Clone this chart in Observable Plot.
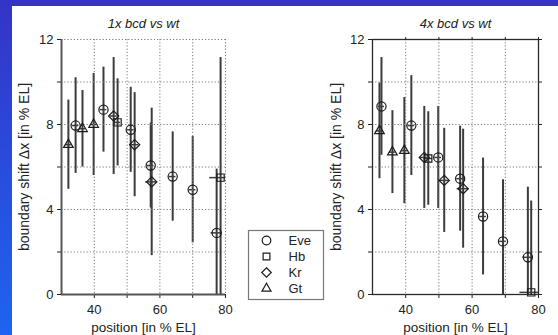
<!DOCTYPE html>
<html><head><meta charset="utf-8">
<script src="https://cdn.jsdelivr.net/npm/d3@7"></script>
<script src="https://cdn.jsdelivr.net/npm/@observablehq/plot@0.6"></script>
<style>
html,body{margin:0;padding:0;}
body{width:558px;height:335px;overflow:hidden;position:relative;background:linear-gradient(to bottom,#3434c6,#1e64f0);font-family:"Liberation Sans",Arial,sans-serif;}
#paper{position:absolute;left:12px;top:6px;right:0;bottom:0;background:#fff;}
.abs{position:absolute;top:0;}
</style></head><body>
<div id="paper"></div>
<div id="left" class="abs" style="left:0px"></div>
<div id="right" class="abs" style="left:279px"></div>
<div id="legend" style="position:absolute;left:248px;top:230px;line-height:0"></div>
<script>
// ---- data ----
const genes = ["Eve", "Hb", "Kr", "Gt"];
const geneSymbols = ["circle", "square2", "diamond2", "triangle2"];

const titles = ["1x bcd vs wt", "4x bcd vs wt"];
const xLabel = "position [in % EL]";
const yLabel = "boundary shift \u0394x [in % EL]";

const xDomain = [30, 80];
const yDomain = [0, 12];
const xTicks = [40, 50, 60, 70, 80];
const xTickLabels = [40, 60, 80];
const yTicks = [0, 2, 4, 6, 8, 10, 12];
const yTickLabels = [0, 4, 8, 12];

// 1x bcd vs wt
const gene1 = ["Gt","Eve","Gt","Gt","Eve","Kr","Hb","Eve","Kr","Eve","Kr","Eve","Eve","Eve","Hb"];
const pos1  = [32.1, 34.3, 36.4, 39.8, 42.8, 45.9, 47.1, 51.1, 52.3, 57.2, 57.5, 63.9, 70.0, 77.3, 78.5];
const shift1= [7.05, 7.95, 7.8, 8.0, 8.7, 8.4, 8.1, 7.75, 7.05, 6.07, 5.3, 5.55, 4.93, 2.9, 5.5];
const err1  = [2.1, 2.25, 1.8, 2.4, 2.0, 2.75, 2.05, 2.0, 2.45, 2.0, 3.47, 2.1, 2.5, 3.0, 5.65];
const xerr1 = [0.9, 1.0, 0.9, 0.9, 1.0, 1.0, 0.9, 1.0, 1.3, 1.0, 1.8, 1.0, 1.0, 1.7, 3.3];

// 4x bcd vs wt
const gene4 = ["Gt","Eve","Gt","Gt","Eve","Kr","Hb","Eve","Kr","Eve","Kr","Eve","Eve","Eve","Hb"];
const pos4  = [32.1, 32.7, 36.0, 39.6, 41.7, 45.6, 46.8, 49.8, 51.6, 56.4, 57.3, 63.3, 69.3, 76.8, 77.8];
const shift4= [7.7, 8.85, 6.7, 6.77, 7.95, 6.45, 6.4, 6.45, 5.37, 5.45, 4.98, 3.67, 2.5, 1.75, 0.1];
const err4  = [2.25, 2.3, 1.95, 2.5, 2.35, 2.4, 2.2, 2.4, 2.45, 2.47, 2.8, 2.75, 2.9, 3.3, 4.3];
const xerr4 = [1.0, 0.9, 0.9, 0.9, 1.0, 1.3, 1.3, 1.0, 1.5, 1.0, 1.8, 1.0, 1.0, 1.5, 3.4];

const FONT = "Liberation Sans, Arial, Helvetica, sans-serif";
const BAR = "#3c3c3c";

function rowsOf(g, x, y, e, xe) {
  return g.map((d, i) => ({gene: d, x: x[i], y: y[i], e: e[i], xe: xe[i]}));
}

function panel(title, rows, boxed, ml, mr, ylDx) {
  const marks = [
    Plot.ruleX(rows, {x: "x", y1: d => d.y - d.e, y2: d => d.y + d.e, stroke: BAR, strokeWidth: 2, clip: true}),
    Plot.ruleY(rows, {y: "y", x1: d => d.x - d.xe, x2: d => d.x + d.xe, stroke: BAR, strokeWidth: 1.5, clip: true}),
    Plot.gridX({ticks: xTicks, stroke: "#7a7a7a", strokeOpacity: 1, strokeDasharray: "1.2,2"}),
    Plot.gridY({ticks: yTicks.filter(t => t > 0), stroke: "#7a7a7a", strokeOpacity: 1, strokeDasharray: "1.2,2"}),
    Plot.dot(rows, {x: "x", y: "y", symbol: "gene", r: 4.6, stroke: "#1c1c1c", strokeWidth: 1.2, fill: "none"}),
    Plot.axisY({ticks: yTicks, tickFormat: d => yTickLabels.includes(d) ? d : "", tickSize: 4, tickPadding: 4, fontSize: 13, label: null}),
    Plot.axisX({ticks: xTicks, tickFormat: d => xTickLabels.includes(d) ? d : "", tickSize: 4, tickPadding: 6, fontSize: 13, label: null}),
    Plot.text([title], {text: d => d, frameAnchor: "top", dy: -16, lineAnchor: "middle", fontStyle: "italic", fontSize: 13}),
    Plot.text([xLabel], {text: d => d, frameAnchor: "bottom", dy: 33, lineAnchor: "middle", fontSize: 13.5}),
    Plot.text([yLabel], {text: d => d, frameAnchor: "left", dx: ylDx, rotate: -90, textAnchor: "middle", lineAnchor: "middle", fontSize: 14})
  ];
  if (boxed) {
    marks.push(Plot.frame({stroke: "#2a2a2a", strokeWidth: 1.3}));
    marks.push(Plot.axisX({anchor: "top", ticks: xTicks, tickFormat: () => "", tickSize: 3, label: null}));
    marks.push(Plot.axisY({anchor: "right", ticks: yTicks, tickFormat: () => "", tickSize: 3, label: null}));
  } else {
    marks.push(Plot.ruleX([xDomain[0]], {stroke: "#555", strokeWidth: 2}));
    marks.push(Plot.ruleY([yDomain[0]], {stroke: "#555", strokeWidth: 2}));
  }
  return Plot.plot({
    width: 279, height: 335,
    marginLeft: ml, marginRight: mr, marginTop: 39, marginBottom: 41,
    style: {background: "transparent", fontFamily: FONT, fontSize: "13px", color: "#222", overflow: "visible"},
    x: {domain: xDomain, label: null},
    y: {domain: yDomain, label: null},
    symbol: {domain: genes, range: geneSymbols},
    marks
  });
}

document.getElementById("left").append(panel(titles[0], rowsOf(gene1, pos1, shift1, err1, xerr1), false, 61, 54, -37));
document.getElementById("right").append(panel(titles[1], rowsOf(gene4, pos4, shift4, err4, xerr4), true, 93, 20, -36));

const legend = Plot.plot({
  width: 75, height: 69,
  marginLeft: 0, marginRight: 0, marginTop: 0, marginBottom: 0,
  style: {background: "#fff", fontFamily: FONT, fontSize: "13px", color: "#222", overflow: "visible"},
  y: {type: "point", domain: genes, axis: null, padding: 0, insetTop: 10, insetBottom: 11},
  symbol: {domain: genes, range: geneSymbols},
  marks: [
    Plot.frame({stroke: "#777", strokeWidth: 1.2}),
    Plot.dot(genes, {y: d => d, symbol: d => d, frameAnchor: "left", dx: 18, r: 4.3, stroke: "#1c1c1c", strokeWidth: 1.2, fill: "none"}),
    Plot.text(genes, {y: d => d, text: d => d, frameAnchor: "left", dx: 40, textAnchor: "start", fontSize: 13})
  ]
});
document.getElementById("legend").append(legend);
</script>
</body></html>
